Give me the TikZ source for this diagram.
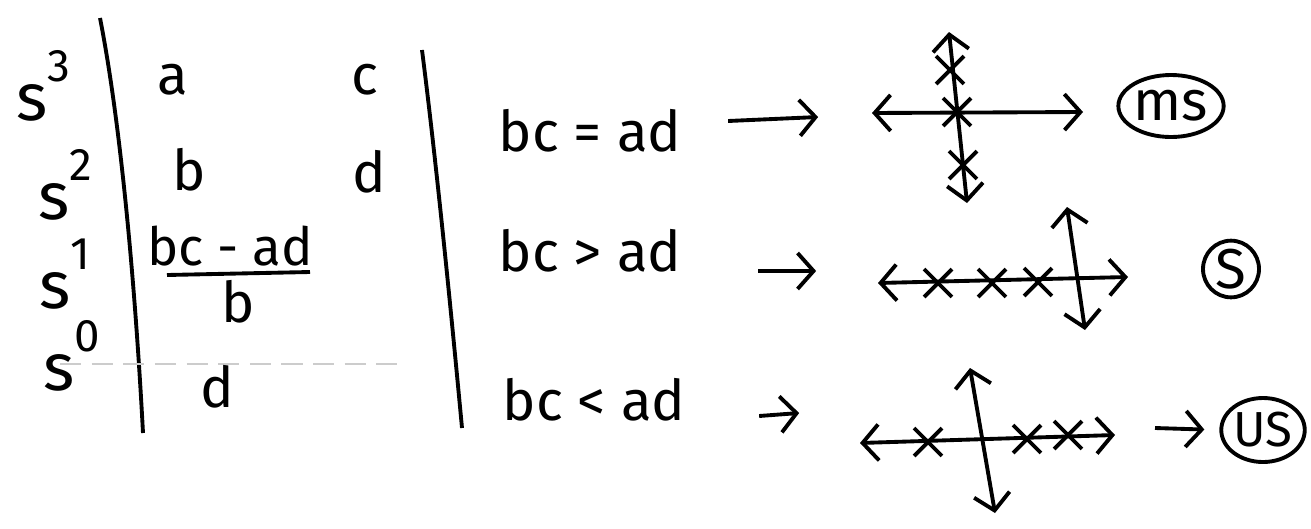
\documentclass[tikz,border=0pt]{standalone}
\usepackage{fontspec}
\setmainfont{Fira Sans}
\usetikzlibrary{arrows.meta,shapes.misc,shapes.geometric}

% small raised exponent for the powers of s
\newcommand{\pw}[1]{\raisebox{1.1ex}{\fontsize{13}{14}\selectfont #1}}

\begin{document}
\begin{tikzpicture}[line width=1.1pt, font=\fontsize{16}{19}\selectfont]

  \tikzstyle{axis} = [{Straight Barb[length=1.6mm,width=3.6mm]}-{Straight Barb[length=1.6mm,width=3.6mm]}]
  \tikzstyle{link} = [-{Straight Barb[length=1.6mm,width=3.6mm]}]
  \tikzstyle{pole} = [draw, cross out, minimum size=2.4mm, inner sep=0pt]
  \tikzstyle{power} = [inner sep=0pt, font=\fontsize{19}{22}\selectfont]
  \tikzstyle{entry} = [inner sep=0pt]
  \tikzstyle{verdict} = [draw, ellipse, inner sep=0pt]

  \useasboundingbox (0,0) rectangle (13.11,-5.28);

  % routh array
  \node[power] (s3) at (0.43,-0.86) {s\pw{3}};
  \node[power] (s2) at (0.65,-1.85) {s\pw{2}};
  \node[power] (s1) at (0.65,-2.74) {s\pw{1}};
  \node[power] (s0) at (0.72,-3.56) {s\pw{0}};

  \draw (1.00,-0.18) .. controls (1.22,-1.30) and (1.36,-3.00) .. (1.43,-4.33);
  \draw (4.22,-0.50) .. controls (4.36,-1.60) and (4.50,-3.00) .. (4.62,-4.28);

  \draw[gray!40, line width=0.4pt, dash pattern=on 6pt off 3pt] (0.60,-3.64) -- (4.03,-3.64);

  \node[entry] (a) at (1.73,-0.80) {a};
  \node[entry] (c) at (3.65,-0.80) {c};
  \node[entry] (b) at (1.89,-1.70) {b};
  \node[entry] (d) at (3.69,-1.72) {d};
  \node[entry, font=\fontsize{15}{18}\selectfont] (num) at (2.30,-2.46) {bc - ad};
  \draw (1.67,-2.75) -- (3.10,-2.72);
  \node[entry] (den) at (2.38,-3.02) {b};
  \node[entry] (d0) at (2.17,-3.87) {d};

  % conditions on the s^1 row
  \node[entry] (c1) at (5.90,-1.31) {bc = ad};
  \node[entry] (c2) at (5.90,-2.51) {bc > ad};
  \node[entry] (c3) at (5.94,-4.00) {bc < ad};

  % root locations, marginally stable
  \draw[axis] (8.72,-1.13) -- (10.83,-1.12);
  \draw[axis] (9.49,-0.32) -- (9.67,-2.03);
  \node[pole] (p11) at (9.50,-0.70) {};
  \node[pole] (p12) at (9.57,-1.12) {};
  \node[pole] (p13) at (9.63,-1.65) {};

  % stable
  \draw[axis] (8.78,-2.83) -- (11.28,-2.77);
  \draw[axis] (10.67,-2.07) -- (10.85,-3.30);
  \node[pole] (p21) at (9.38,-2.83) {};
  \node[pole] (p22) at (9.92,-2.83) {};
  \node[pole] (p23) at (10.38,-2.82) {};

  % unstable
  \draw[axis] (8.60,-4.43) -- (11.15,-4.35);
  \draw[axis] (9.70,-3.68) -- (9.95,-5.13);
  \node[pole] (p31) at (9.28,-4.42) {};
  \node[pole] (p32) at (10.27,-4.39) {};
  \node[pole] (p33) at (10.68,-4.35) {};
  \coordinate (u3) at (11.55,-4.28);

  \node[verdict, minimum width=1.02cm, minimum height=0.62cm] (ms) at (11.71,-1.06) {ms};
  \node[verdict, minimum width=0.56cm, minimum height=0.54cm] (st) at (12.31,-2.69) {S};
  \node[verdict, minimum width=0.72cm, minimum height=0.64cm, font=\fontsize{14}{16}\selectfont] (us) at (12.63,-4.30) {US};

  \draw[link] (c1.east) ++(0.45,0.10) -- ++(0.90,0.04);
  \draw[link] (c2.east) ++(0.75,-0.20) -- ++(0.58,0);
  \draw[link] (c3.east) ++(0.72,-0.16) -- ++(0.40,0.03);
  \draw[link, shorten >=1.5mm] (u3) -- (us.west);

\end{tikzpicture}
\end{document}
